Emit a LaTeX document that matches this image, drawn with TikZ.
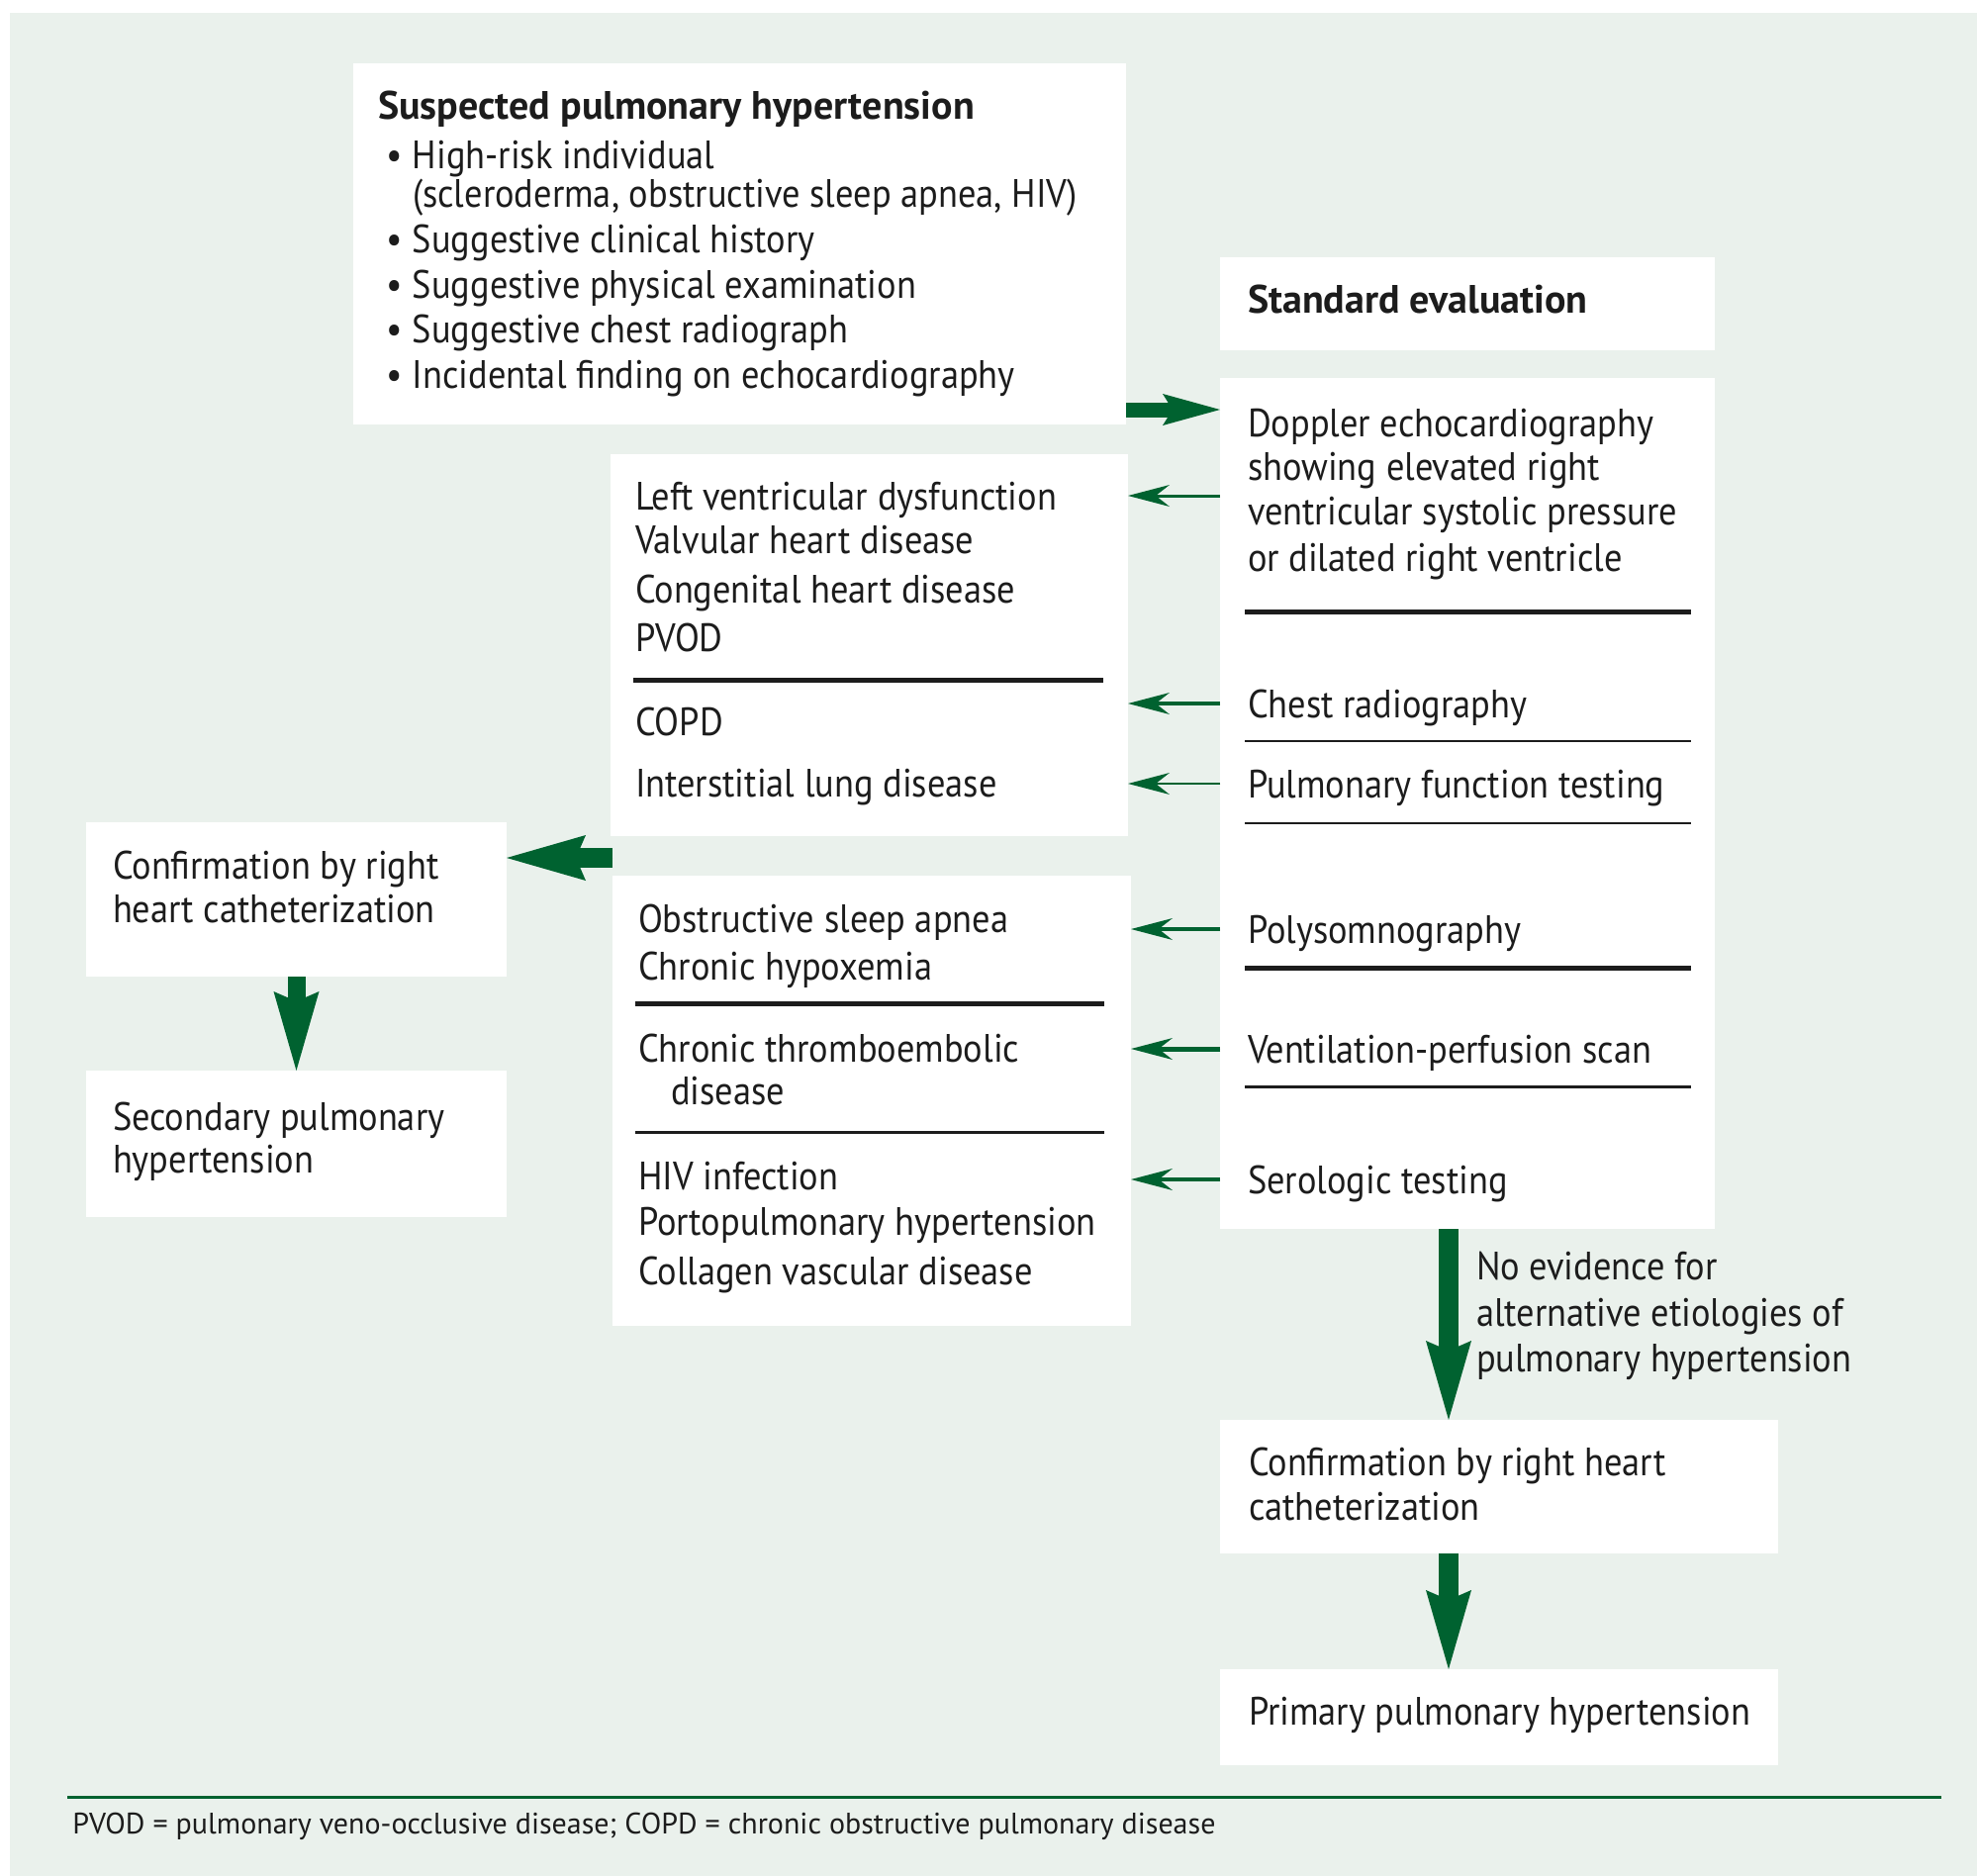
\documentclass[tikz,border=0pt]{standalone}
\usepackage{fontspec}
\setmainfont{PT Sans}[FakeStretch=0.91]
\newfontfamily\hdfont{PT Sans}
\usetikzlibrary{arrows.meta}
\definecolor{bg}{RGB}{234,241,236}
\definecolor{grn}{RGB}{0,98,48}
\definecolor{ink}{RGB}{28,28,28}
\newcommand{\mainfs}{\fontsize{20}{24}\selectfont}
\begin{document}
\begin{tikzpicture}[x=0.5pt,y=-0.5pt,
  box/.style={fill=white, draw=none, inner sep=0pt, outer sep=0pt, anchor=north west},
  txt/.style={anchor=west, inner sep=0pt, outer sep=0pt, text height=14pt, text depth=0pt, font=\mainfs, text=ink},
  btxt/.style={txt, font=\hdfont\mainfs\bfseries},
  sep/.style={draw=ink, line width=#1},
  sarr/.style={draw=grn, fill=grn, line width=#1, -{Stealth[length=21pt, width=11pt, inset=7pt, line width=0pt]}},
  barr/.style={draw=grn, fill=grn, line width=10pt, -{Stealth[length=40pt, width=23pt, inset=5pt, line width=0pt]}},
  marr/.style={draw=grn, fill=grn, line width=7.5pt, -{Stealth[length=29pt, width=16pt, inset=5pt, line width=0pt]}}
]
\useasboundingbox (0,0) rectangle (1998,1896);
\fill[bg] (10,13) rectangle (1998,1896);

% boxes
\node[box, minimum width=390.5pt, minimum height=182.5pt] (A) at (357,64) {};
\node[box, minimum width=250pt, minimum height=47pt] (B) at (1233,260) {};
\node[box, minimum width=250pt, minimum height=430pt] (C) at (1233,382) {};
\node[box, minimum width=261.5pt, minimum height=193pt] (D) at (617,459) {};
\node[box, minimum width=262pt, minimum height=227.5pt] (E) at (619,885) {};
\node[box, minimum width=212.5pt, minimum height=78pt] (F) at (87,831) {};
\node[box, minimum width=212.5pt, minimum height=74pt] (G) at (87,1082) {};
\node[box, minimum width=282pt, minimum height=67.5pt] (H) at (1233,1435) {};
\node[box, minimum width=282pt, minimum height=48.5pt] (I) at (1233,1687) {};

% box A
\node[btxt] (a0) at (382,106) {Suspected pulmonary hypertension};
\node[txt] (a1) at (390,156) {\makebox[13.5pt][l]{\textbullet}High-risk individual};
\node[txt] (a2) at (417,195) {(scleroderma, obstructive sleep apnea, HIV)};
\node[txt] (a3) at (390,241) {\makebox[13.5pt][l]{\textbullet}Suggestive clinical history};
\node[txt] (a4) at (390,287) {\makebox[13.5pt][l]{\textbullet}Suggestive physical examination};
\node[txt] (a5) at (390,332) {\makebox[13.5pt][l]{\textbullet}Suggestive chest radiograph};
\node[txt] (a6) at (390,378) {\makebox[13.5pt][l]{\textbullet}Incidental finding on echocardiography};

% box B
\node[btxt] (b0) at (1261,302) {Standard evaluation};

% box C
\node[txt] (c1) at (1261,427) {Doppler echocardiography};
\node[txt] (c2) at (1261,471) {showing elevated right};
\node[txt] (c3) at (1261,516) {ventricular systolic pressure};
\node[txt] (c4) at (1261,563) {or dilated right ventricle};
\node[txt] (chest) at (1261,711) {Chest radiography};
\node[txt] (pft) at (1261,792) {Pulmonary function testing};
\node[txt] (poly) at (1261,939) {Polysomnography};
\node[txt] (vq) at (1261,1060) {Ventilation-perfusion scan};
\node[txt] (sero) at (1261,1192) {Serologic testing};
\draw[sep=2.5pt] (1258,618) -- (1709,618);
\draw[sep=1.3pt] (1258,749) -- (1709,749);
\draw[sep=1.3pt] (1258,832) -- (1709,832);
\draw[sep=2.5pt] (1258,978) -- (1709,978);
\draw[sep=1.5pt] (1258,1098) -- (1709,1098);

% box D
\node[txt] (lv) at (642,501) {Left ventricular dysfunction};
\node[txt] (d2) at (642,545) {Valvular heart disease};
\node[txt] (d3) at (642,595) {Congenital heart disease};
\node[txt] (d4) at (642,644) {PVOD};
\draw[sep=2.5pt] (640,687) -- (1115,687);
\node[txt] (copd) at (642,729) {COPD};
\node[txt] (ild) at (642,791) {Interstitial lung disease};

% box E
\node[txt] (osa) at (645,928) {Obstructive sleep apnea};
\node[txt] (e2) at (645,976) {Chronic hypoxemia};
\draw[sep=2.5pt] (642,1014) -- (1116,1014);
\node[txt] (cte) at (645,1059) {Chronic thromboembolic};
\node[txt] (e4) at (678,1102) {disease};
\draw[sep=1.5pt] (642,1144) -- (1116,1144);
\node[txt] (hiv) at (645,1188) {HIV infection};
\node[txt] (e6) at (645,1234) {Portopulmonary hypertension};
\node[txt] (e7) at (645,1284) {Collagen vascular disease};

% box F, G
\node[txt] (f1) at (114,874) {Confirmation by right};
\node[txt] (f2) at (114,918) {heart catheterization};
\node[txt] (g1) at (114,1128) {Secondary pulmonary};
\node[txt] (g2) at (114,1171) {hypertension};

% box H, I
\node[txt] (h1) at (1262,1477) {Confirmation by right heart};
\node[txt] (h2) at (1262,1522) {catheterization};
\node[txt] (i1) at (1262,1729) {Primary pulmonary hypertension};

% label
\node[txt] (l1) at (1492,1279) {No evidence for};
\node[txt] (l2) at (1492,1326) {alternative etiologies of};
\node[txt] (l3) at (1492,1372) {pulmonary hypertension};

% footer
\coordinate (fl) at (68,1816);
\coordinate (fr) at (1962,1816);
\draw[grn, line width=1.5pt] (fl) -- (fr);
\node[anchor=west, inner sep=0pt, text height=10.5pt, text depth=0pt, font=\hdfont\fontsize{15}{17}\selectfont, text=ink] (foot) at (73,1843)
  {PVOD = pulmonary veno-occlusive disease; COPD = chronic obstructive pulmonary disease};

% connectors
\coordinate (ay) at (0,414);
\coordinate (ax) at (1464,0);
\coordinate (de) at (619,867);
\draw[marr] (A.east |- ay) -- (C.west |- ay);
\draw[sarr=1.5pt] (C.west |- lv) -- (D.east |- lv);
\draw[sarr=2pt] (C.west |- chest) -- (D.east |- chest);
\draw[sarr=0.8pt] (C.west |- pft) -- (D.east |- pft);
\draw[sarr=2pt] (C.west |- poly) -- (E.east |- poly);
\draw[sarr=2.5pt] (C.west |- vq) -- (E.east |- vq);
\draw[sarr=2pt] (C.west |- sero) -- (E.east |- sero);
\draw[barr] (de) -- (F.east |- de);
\draw[barr, line width=9pt] (F.south) -- (G.north);
\draw[barr] (ax |- C.south) -- (ax |- H.north);
\draw[barr] (ax |- H.south) -- (ax |- I.north);
\end{tikzpicture}
\end{document}
